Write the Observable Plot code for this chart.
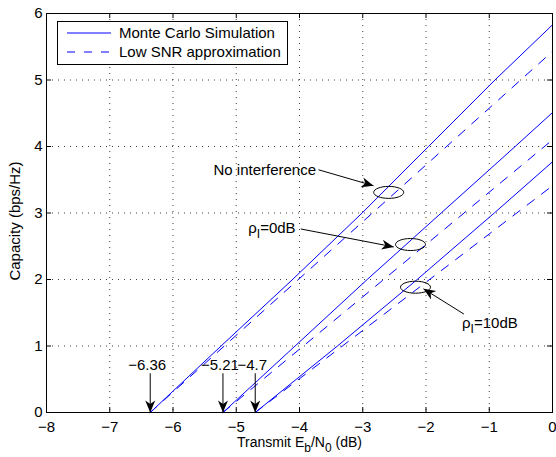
<!DOCTYPE html>
<html><head><meta charset="utf-8">
<script src="https://cdn.jsdelivr.net/npm/d3@7"></script>
<script src="https://cdn.jsdelivr.net/npm/@observablehq/plot@0.6"></script>
<style>body{margin:0;background:#fff}</style>
</head><body><div id="chart"></div>
<script>
const xTicks = [-8, -7, -6, -5, -4, -3, -2, -1, 0];
const yTicks = [0, 1, 2, 3, 4, 5, 6];

// Monte Carlo Simulation (solid)
const mcX = [
  [-6.36, -5.24, -4.11, -3.01, -1.96, -0.91, 0],
  [-5.21, -4.07, -2.93, -1.76, -0.59, 0],
  [-4.70, -3.40, -2.14, -0.92, 0]
];
const mcY = [
  [0, 1, 2, 3, 4, 5, 5.83],
  [0, 1, 2, 3, 4, 4.51],
  [0, 1, 2, 3, 3.77]
];
// Low SNR approximation (dashed)
const lowX = [[-6.36, 0], [-5.21, 0], [-4.70, 0]];
const lowY = [[0, 5.43], [0, 4.10], [0, 3.41]];

const thresholds = [-6.36, -5.21, -4.7];
const thresholdLabels = ["−6.36", "−5.21", "−4.7"];
const thresholdArrowTop = [0.59, 0.59, 0.59];
const thresholdLabelY = [0.71, 0.71, 0.71];

const annotTexts = ["No interference", "ρ_I=0dB", "ρ_I=10dB"];
const annotTextX = [-5.36, -4.81, -1.43];
const annotTextY = [3.65, 2.77, 1.34];
const arrowX1 = [-3.70, -3.98, -1.40];
const arrowY1 = [3.65, 2.76, 1.48];
const arrowX2 = [-2.83, -2.51, -2.04];
const arrowY2 = [3.41, 2.49, 1.86];
const ellipseX = [-2.59, -2.245, -2.166];
const ellipseY = [3.31, 2.526, 1.884];

const legendItems = ["Monte Carlo Simulation", "Low SNR approximation"];

const mcData = mcX.flatMap((xs, s) => xs.map((x, i) => ({x, y: mcY[s][i], s})));
const lowData = lowX.flatMap((xs, s) => xs.map((x, i) => ({x, y: lowY[s][i], s})));
const arrows = arrowX1.map((x1, i) => ({x1, y1: arrowY1[i], x2: arrowX2[i], y2: arrowY2[i]}));
const tArrows = thresholds.map((x, i) => ({x, y1: thresholdArrowTop[i], y2: 0}));
const ellipses = ellipseX.map((x, i) => ({x, y: ellipseY[i]}));
const annots = annotTexts.map((t, i) => ({t, x: annotTextX[i], y: annotTextY[i]}));
const tLabels = thresholds.map((x, i) => ({x, y: thresholdLabelY[i], t: thresholdLabels[i]}));

const ellipseSymbol = {
  draw(ctx, size) {
    const r = Math.sqrt(size / Math.PI), rx = r, ry = r * 0.4, k = 0.5523;
    ctx.moveTo(rx, 0);
    ctx.bezierCurveTo(rx, ry * k, rx * k, ry, 0, ry);
    ctx.bezierCurveTo(-rx * k, ry, -rx, ry * k, -rx, 0);
    ctx.bezierCurveTo(-rx, -ry * k, -rx * k, -ry, 0, -ry);
    ctx.bezierCurveTo(rx * k, -ry, rx, -ry * k, rx, 0);
    ctx.closePath();
  }
};

const innerH = 457 - 13 - 45, innerW = 556 - 46 - 4, tk = 5;
const font = "'Liberation Sans', Arial, Helvetica, sans-serif";
const fmt = d => (d < 0 ? "−" + (-d) : String(d));

const chart = Plot.plot({
  width: 556, height: 457,
  marginLeft: 46, marginRight: 4, marginTop: 13, marginBottom: 45,
  style: {fontFamily: font, fontSize: "15px", background: "#fff", color: "#000", overflow: "visible"},
  x: {domain: [-8, 0], ticks: xTicks, tickSize: 0, tickPadding: 9, label: null, tickFormat: fmt},
  y: {domain: [0, 6], ticks: yTicks, tickSize: 0, tickPadding: 4, label: null, tickFormat: fmt},
  marks: [
    Plot.ruleX(xTicks, {x: d => d, stroke: "#000", strokeOpacity: 0.75, strokeDasharray: "1,5", strokeWidth: 1}),
    Plot.ruleY(yTicks, {y: d => d, stroke: "#000", strokeOpacity: 0.75, strokeDasharray: "1,5", strokeWidth: 1}),
    Plot.ruleX(xTicks, {x: d => d, stroke: "#000", insetTop: innerH - tk}),
    Plot.ruleX(xTicks, {x: d => d, stroke: "#000", insetBottom: innerH - tk}),
    Plot.ruleY(yTicks, {y: d => d, stroke: "#000", insetRight: innerW - tk}),
    Plot.ruleY(yTicks, {y: d => d, stroke: "#000", insetLeft: innerW - tk}),
    Plot.line(lowData, {x: "x", y: "y", z: "s", stroke: "#0000ff", strokeWidth: 1, strokeDasharray: "9,9"}),
    Plot.line(mcData, {x: "x", y: "y", z: "s", stroke: "#0000ff", strokeWidth: 1}),
    Plot.dot(ellipses, {x: "x", y: "y", r: 15, symbol: ellipseSymbol, stroke: "#000", fill: "none", strokeWidth: 1}),
    Plot.link(arrows, {x1: "x1", y1: "y1", x2: "x2", y2: "y2", stroke: "#000", strokeWidth: 1}),
    Plot.link(tArrows, {x1: "x", x2: "x", y1: "y1", y2: "y2", stroke: "#000", strokeWidth: 1}),
    Plot.text(annots, {x: "x", y: "y", text: "t", textAnchor: "start", fill: "#000", fontSize: 15}),
    Plot.text(tLabels, {x: "x", y: "y", text: "t", textAnchor: "middle", dx: -3, fill: "#000", fontSize: 15}),
    Plot.text(["Transmit E_b/N_0 (dB)"], {frameAnchor: "bottom", textAnchor: "middle", lineAnchor: "middle", dy: 30, fill: "#000", fontSize: 14}),
    Plot.text(["Capacity (bps/Hz)"], {frameAnchor: "left", textAnchor: "middle", lineAnchor: "middle", dx: -31, dy: 8, rotate: -90, fill: "#000", fontSize: 15}),
    Plot.frame({stroke: "#000", strokeWidth: 1})
  ]
});

document.getElementById("chart").appendChild(chart);
const svgEl = chart.tagName.toLowerCase() === "svg" ? chart : chart.querySelector("svg");
const svg = d3.select(svgEl);

// subscripts
svg.selectAll("text").each(function() {
  const t = this;
  if (t.querySelector("tspan")) return;
  const s = t.textContent;
  if (!s.includes("_")) return;
  const parts = s.split(/_(\w)/);
  t.textContent = "";
  parts.forEach((p, i) => {
    const ts = document.createElementNS("http://www.w3.org/2000/svg", "tspan");
    if (i % 2 === 1) { ts.setAttribute("dy", "5"); ts.setAttribute("font-size", "12"); }
    else if (i > 0) { ts.setAttribute("dy", "-5"); }
    ts.textContent = p;
    t.appendChild(ts);
  });
});

// arrowheads
const defs = svg.insert("defs", ":first-child");
defs.append("marker").attr("id", "ahead").attr("viewBox", "-13 -6 14 12")
  .attr("markerWidth", 14).attr("markerHeight", 12).attr("markerUnits", "userSpaceOnUse")
  .attr("refX", 0).attr("refY", 0).attr("orient", "auto")
  .append("path").attr("d", "M0,0 L-12,-5 L-8.5,0 L-12,5 Z").attr("fill", "#000");
svg.selectAll('g[aria-label="link"] path').attr("marker-end", "url(#ahead)");

// legend
const lg = svg.append("g").attr("font-family", font).attr("font-size", 15).attr("text-anchor", "start");
lg.append("rect").attr("x", 57.5).attr("y", 21.5).attr("width", 230).attr("height", 43)
  .attr("fill", "#fff").attr("stroke", "#000");
legendItems.forEach((name, i) => {
  const yy = 33 + i * 19;
  lg.append("line").attr("x1", 67).attr("x2", 111).attr("y1", yy).attr("y2", yy)
    .attr("stroke", "#0000ff").attr("stroke-width", 1)
    .attr("stroke-dasharray", i === 1 ? "8,9" : null);
  lg.append("text").attr("x", 119).attr("y", yy).attr("dy", "0.35em").attr("fill", "#000")
    .attr("text-anchor", "start").text(name);
});
</script>
</body></html>
